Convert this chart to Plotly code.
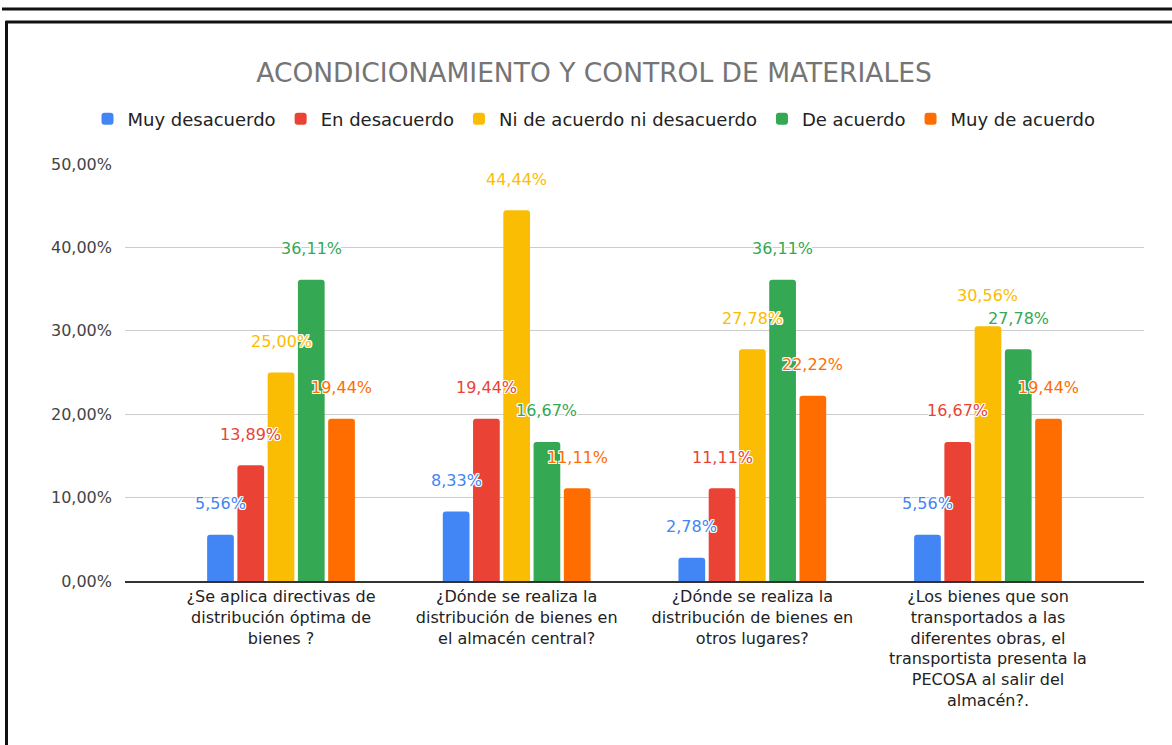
import plotly.graph_objects as go

# ---------------- data ----------------
categories = [
    "¿Se aplica directivas de<br>distribución óptima de<br>bienes ?",
    "¿Dónde se realiza la<br>distribución de bienes en<br>el almacén central?",
    "¿Dónde se realiza la<br>distribución de bienes en<br>otros lugares?",
    "¿Los bienes que son<br>transportados a las<br>diferentes obras, el<br>transportista presenta la<br>PECOSA al salir del<br>almacén?.",
]
series_names = ["Muy desacuerdo", "En desacuerdo", "Ni de acuerdo ni desacuerdo",
                "De acuerdo", "Muy de acuerdo"]
muy_desacuerdo = [5.56, 8.33, 2.78, 5.56]
en_desacuerdo = [13.89, 19.44, 11.11, 16.67]
ni_ni = [25.00, 44.44, 27.78, 30.56]
de_acuerdo = [36.11, 16.67, 36.11, 27.78]
muy_de_acuerdo = [19.44, 11.11, 22.22, 19.44]
series_values = [muy_desacuerdo, en_desacuerdo, ni_ni, de_acuerdo, muy_de_acuerdo]
y_ticks = [0, 10, 20, 30, 40, 50]

title_text = "ACONDICIONAMIENTO Y CONTROL DE MATERIALES"

# ---------------- style ----------------
colors = ["#4285F4", "#EA4335", "#FBBC04", "#34A853", "#FF6D01"]
FONT = "DejaVu Sans"
W, H = 1172, 745
ML, MR, MT, MB = 125, 28, 164, 164
BARGAP = 0.358
BARGROUPGAP = 0.117
PW = W - ML - MR
PH = H - MT - MB


def px_x(px):
    return (px - ML) / PW


def px_y(py):
    return (H - MB - py) / PH


def fmt(v):
    return f"{v:.2f}".replace(".", ",") + "%"


fig = go.Figure()
n = len(series_values)
for i, (name, vals) in enumerate(zip(series_names, series_values)):
    fig.add_trace(go.Bar(
        name=name,
        x=list(range(len(categories))),
        y=vals,
        marker=dict(color=colors[i], line=dict(width=0)),
        hoverinfo="skip",
    ))

# data labels (centered above each bar)
slot = (1 - BARGAP) / n
shadow = ("1px 1px 0 #fff, -1px -1px 0 #fff, 1px -1px 0 #fff, -1px 1px 0 #fff, "
          "0 1px 0 #fff, 0 -1px 0 #fff, 1px 0 0 #fff, -1px 0 0 #fff")
annotations = []
for i, vals in enumerate(series_values):
    for j, v in enumerate(vals):
        annotations.append(dict(
            x=j + (i - (n - 1) / 2) * slot, y=v, xref="x", yref="y",
            text=fmt(v), showarrow=False, yanchor="middle", xanchor="center",
            yshift=31,
            font=dict(family=FONT, size=16, color=colors[i], shadow=shadow),
        ))

# frame lines around the picture
shapes = [
    dict(type="line", xref="paper", yref="paper",
         x0=px_x(2), x1=px_x(W), y0=px_y(9), y1=px_y(9),
         line=dict(color="#111", width=3)),
    dict(type="line", xref="paper", yref="paper",
         x0=px_x(5.5), x1=px_x(W), y0=px_y(22), y1=px_y(22),
         line=dict(color="#111", width=3)),
    dict(type="line", xref="paper", yref="paper",
         x0=px_x(6.5), x1=px_x(6.5), y0=px_y(21), y1=px_y(H),
         line=dict(color="#111", width=3)),
]

fig.update_layout(
    width=W, height=H,
    margin=dict(l=ML, r=MR, t=MT, b=MB, autoexpand=False),
    paper_bgcolor="white", plot_bgcolor="white",
    font=dict(family=FONT, size=16, color="#222"),
    separators=",.",
    barmode="group", bargap=BARGAP, bargroupgap=BARGROUPGAP,
    barcornerradius=3,
    title=dict(text=title_text, x=594 / W, xanchor="center",
               y=1 - 73 / H, yanchor="middle", xref="container", yref="container",
               font=dict(family=FONT, size=26.5, color="#757575")),
    legend=dict(orientation="h", x=px_x(594), xanchor="center",
                y=px_y(119), yanchor="middle",
                font=dict(family=FONT, size=18, color="#222"),
                itemclick=False, itemdoubleclick=False,
                traceorder="normal"),
    xaxis=dict(
        type="linear",
        tickmode="array",
        tickvals=list(range(len(categories))),
        ticktext=categories,
        range=[-0.662, len(categories) - 1 + 0.662],
        showgrid=False, zeroline=False,
        showline=True, linecolor="#333", linewidth=1.5,
        ticks="", tickfont=dict(family=FONT, size=16, color="#222"),
        fixedrange=True,
    ),
    yaxis=dict(
        range=[0, 50], tickmode="array", tickvals=y_ticks,
        ticktext=[fmt(v) for v in y_ticks],
        showgrid=True, gridcolor="#cccccc", gridwidth=1,
        zeroline=False, showline=False, ticks="",
        ticklabelstandoff=12,
        tickfont=dict(family=FONT, size=16, color="#444"),
        fixedrange=True,
    ),
    annotations=annotations,
    shapes=shapes,
    showlegend=True,
)

fig.write_html("out.html",
               config={"displayModeBar": False},
               post_script="document.body.style.margin='0';document.body.style.overflow='hidden';")
